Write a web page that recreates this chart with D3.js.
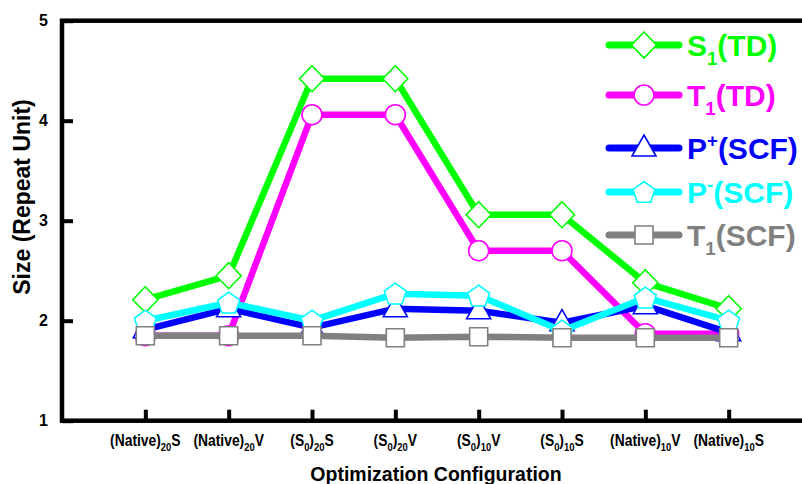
<!DOCTYPE html>
<html><head><meta charset="utf-8">
<script src="https://cdn.jsdelivr.net/npm/d3@7"></script>
<style>
html,body{margin:0;padding:0;background:#fff;}
svg{display:block;}
text{font-family:"Liberation Sans",Arial,sans-serif;font-weight:bold;}
</style></head>
<body>
<svg id="chart" width="802" height="484"></svg>
<script>
// ---- data ----
const categories = ["(Native)_{20}S","(Native)_{20}V","(S_{0})_{20}S","(S_{0})_{20}V","(S_{0})_{10}V","(S_{0})_{10}S","(Native)_{10}V","(Native)_{10}S"];
const s1TD  = [2.21, 2.45, 4.42, 4.42, 3.06, 3.06, 2.38, 2.12];
const t1TD  = [1.85, 1.85, 4.06, 4.06, 2.70, 2.70, 1.87, 1.87];
const pPlus = [1.91, 2.12, 1.93, 2.12, 2.10, 1.98, 2.15, 1.88];
const pMinus= [2.00, 2.18, 2.00, 2.27, 2.25, 1.90, 2.23, 2.00];
const t1SCF = [1.85, 1.85, 1.85, 1.83, 1.84, 1.83, 1.83, 1.83];
const yTicks = [1, 2, 3, 4, 5];
const seriesNames = ["S_{1}(TD)","T_{1}(TD)","P^{+}(SCF)","P^{-}(SCF)","T_{1}(SCF)"];
const seriesColors = ["#00ff00","#ff00ff","#0000ff","#00ffff","#808080"];
const seriesMarkers = ["diamond","circle","triangle","pentagon","square"];
const seriesValues = [s1TD, t1TD, pPlus, pMinus, t1SCF];

// ---- helpers ----
function parseRich(str){
  const segs=[]; const re=/(_|\^)\{([^}]*)\}|([^_^]+)/g; let m;
  while((m=re.exec(str))){
    if(m[3]) segs.push({t:m[3],k:"n"});
    else segs.push({t:m[2],k:m[1]==="_"?"sub":"sup"});
  }
  return segs;
}
function richText(sel, str, fs, subScale){
  const segs=parseRich(str);
  let cur=0;
  segs.forEach(s=>{
    const ts=sel.append("tspan").text(s.t);
    let target=0, size=fs;
    if(s.k==="sub"){target=fs*0.32; size=fs*subScale;}
    if(s.k==="sup"){target=-fs*0.38; size=fs*subScale;}
    ts.attr("dy",target-cur).style("font-size",size+"px");
    cur=target;
  });
}
function markerPath(type){
  switch(type){
    case "diamond": return "M0,-13L12.5,0L0,13L-12.5,0Z";
    case "triangle": return "M0,-13L12,8L-12,8Z";
    case "square": return "M-9,-9L9,-9L9,9L-9,9Z";
    case "pentagon": {
      const r=11.5; let p="";
      for(let i=0;i<5;i++){const a=-Math.PI/2+i*2*Math.PI/5; p+=(i?"L":"M")+(r*Math.cos(a)).toFixed(2)+","+(r*Math.sin(a)+1).toFixed(2);}
      return p+"Z";
    }
    default: return d3.symbol().type(d3.symbolCircle).size(Math.PI*100)();
  }
}

// ---- layout ----
const svg=d3.select("#chart");
const L=62, R=812, T=20.7, B=420.7;
const x=d3.scalePoint().domain(categories).range([L,R]).padding(1);
const y=d3.scaleLinear().domain([1,5]).range([B,T]);

// axes
const xAx=svg.append("g").attr("transform",`translate(0,${B})`)
  .call(d3.axisBottom(x).tickSizeInner(-11).tickSizeOuter(0).tickFormat(""));
xAx.select(".domain").remove();
xAx.selectAll(".tick line").attr("stroke","#000").attr("stroke-width",4);

const yAx=svg.append("g").attr("transform",`translate(${L},0)`)
  .call(d3.axisLeft(y).tickValues(yTicks).tickSizeInner(-11).tickSizeOuter(0).tickPadding(14).tickFormat(d3.format("d")));
yAx.select(".domain").remove();
yAx.selectAll(".tick line").attr("stroke","#000").attr("stroke-width",4);
yAx.selectAll(".tick text").style("font-size","16px").style("font-family","'Liberation Sans',Arial,sans-serif").style("font-weight","bold").attr("fill","#000");

// frame
svg.append("rect").attr("x",L).attr("y",T).attr("width",R-L).attr("height",B-T)
  .attr("fill","none").attr("stroke","#000").attr("stroke-width",4.5);

// x tick labels (condensed)
categories.forEach(c=>{
  const g=svg.append("g").attr("transform",`translate(${x(c)},446) scale(0.84,1)`);
  const t=g.append("text").attr("x",0).attr("y",0).attr("text-anchor","middle").style("font-size","16.5px").attr("fill","#000");
  richText(t,c,16.5,0.68);
});

// axis titles
svg.append("text").attr("x",436).attr("y",481).attr("text-anchor","middle").style("font-size","19.5px").text("Optimization Configuration");
svg.append("text").attr("transform","translate(30,197) rotate(-90)").attr("text-anchor","middle").style("font-size","23px").text("Size (Repeat Unit)");

// series
const line=d3.line().x((d,i)=>x(categories[i])).y(d=>y(d));
seriesValues.forEach((vals,si)=>{
  const g=svg.append("g");
  g.append("path").datum(vals).attr("d",line).attr("fill","none")
    .attr("stroke",seriesColors[si]).attr("stroke-width",6.5).attr("stroke-linejoin","round").attr("stroke-linecap","round");
  g.selectAll("path.m").data(vals).enter().append("path").attr("class","m")
    .attr("d",markerPath(seriesMarkers[si]))
    .attr("transform",(d,i)=>`translate(${x(categories[i])},${y(d)})`)
    .attr("fill","#fff").attr("stroke",seriesColors[si]).attr("stroke-width",1.6);
});

// legend
const legY=[45,95,148,192,235];
seriesNames.forEach((nm,si)=>{
  const g=svg.append("g").attr("transform",`translate(0,${legY[si]})`);
  g.append("line").attr("x1",609).attr("x2",679).attr("y1",0).attr("y2",0)
    .attr("stroke",seriesColors[si]).attr("stroke-width",7).attr("stroke-linecap","round");
  g.append("path").attr("d",markerPath(seriesMarkers[si])).attr("transform","translate(644,0)")
    .attr("fill","#fff").attr("stroke",seriesColors[si]).attr("stroke-width",1.6);
  const t=g.append("text").attr("x",687).attr("y",10.5).attr("fill",seriesColors[si]).style("font-size","30px");
  richText(t,nm,30,0.62);
});
</script>
</body></html>
